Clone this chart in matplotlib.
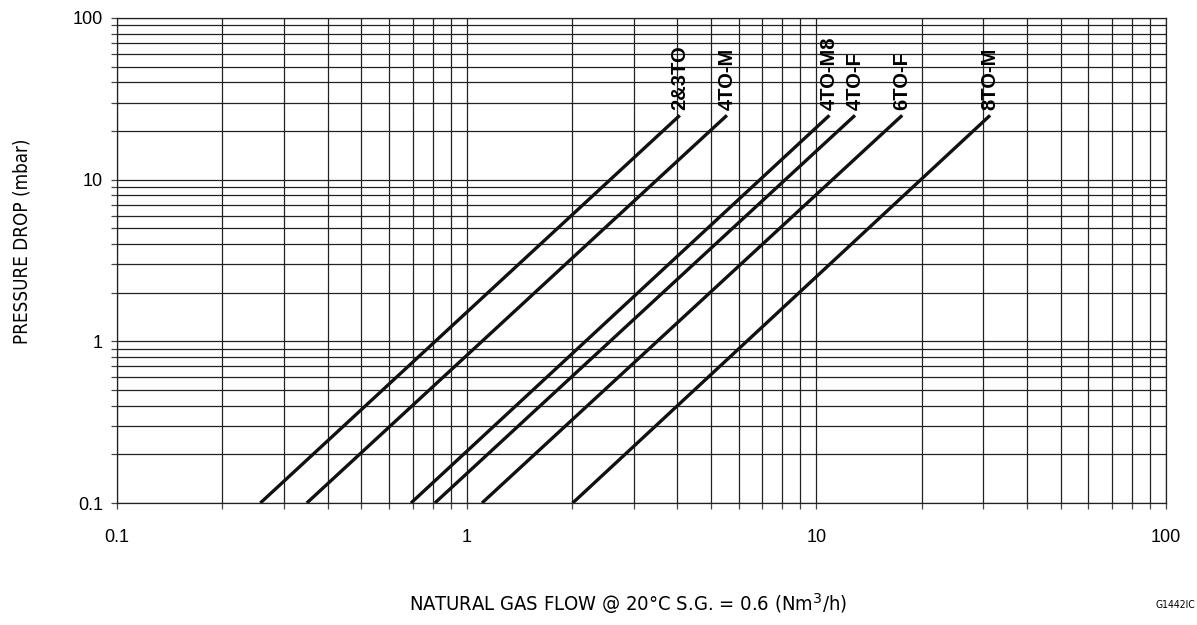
import numpy as np
import matplotlib.pyplot as plt
from matplotlib import font_manager as fm
from matplotlib.ticker import LogLocator, FixedLocator, NullFormatter

# flow (Nm3/h) at 0.1 mbar and at top end of each curve
names = ['2&3TO', '4TO-M', '4TO-M8', '4TO-F', '6TO-F', '8TO-M']
flow_start = [0.257, 0.349, 0.693, 0.811, 1.106, 2.01]
flow_end = [4.07, 5.55, 10.9, 12.9, 17.6, 31.4]
dp_start = 0.1
dp_end = 25.0
tick_vals = [0.1, 1, 10, 100]
tick_text = ['0.1', '1', '10', '100']

plt.rcParams['font.family'] = ['Liberation Sans', 'DejaVu Sans']


def condensed(size):
    # narrow face for the axis titles (DejaVu Sans Condensed if present)
    for f in fm.fontManager.ttflist:
        if f.fname.endswith('DejaVuSansCondensed.ttf'):
            return fm.FontProperties(fname=f.fname, size=size)
    return fm.FontProperties(family='DejaVu Sans', stretch='condensed', size=size)


fig = plt.figure(figsize=(11.97, 6.25), dpi=100)
ax = fig.add_axes([117 / 1197, 122 / 625, 1049 / 1197, 485 / 625])
ax.set_xscale('log')
ax.set_yscale('log')
ax.set_xlim(0.1, 100)
ax.set_ylim(0.1, 100)

for n, f0, f1 in zip(names, flow_start, flow_end):
    ax.plot([f0, f1], [dp_start, dp_end], color='#111111', lw=2.4, solid_capstyle='butt')
    ax.annotate(n, (f1, dp_end), xytext=(0, 4), textcoords='offset points',
                rotation=90, ha='center', va='bottom', fontsize=14.5, fontweight='bold')

ax.xaxis.set_major_locator(FixedLocator(tick_vals))
ax.yaxis.set_major_locator(FixedLocator(tick_vals))
ax.xaxis.set_minor_locator(LogLocator(base=10, subs=np.arange(2, 10)))
ax.yaxis.set_minor_locator(LogLocator(base=10, subs=np.arange(2, 10)))
ax.xaxis.set_minor_formatter(NullFormatter())
ax.yaxis.set_minor_formatter(NullFormatter())
ax.set_xticklabels(tick_text)
ax.set_yticklabels(tick_text)

ax.grid(True, which='both', color='#222222', lw=0.9)
ax.tick_params(which='both', direction='out', length=4, width=0.9, color='#444444',
               labelsize=13)
ax.tick_params(axis='x', pad=15)
ax.tick_params(axis='y', pad=6)
for s in ax.spines.values():
    s.set_color('#222222')
    s.set_linewidth(0.9)

fig.text(628 / 1197, 1 - 604 / 625, 'NATURAL GAS FLOW @ 20°C S.G. = 0.6 (Nm$^3$/h)',
         fontproperties=condensed(14.5), ha='center', va='center')
fig.text(22 / 1197, 1 - 241 / 625, 'PRESSURE DROP (mbar)', fontproperties=condensed(13.5),
         rotation=90, ha='center', va='center')
fig.text(1195 / 1197, 1 - 605 / 625, 'G1442IC', fontproperties=condensed(7.5),
         ha='right', va='center')

fig.savefig('out.png', dpi=100)
